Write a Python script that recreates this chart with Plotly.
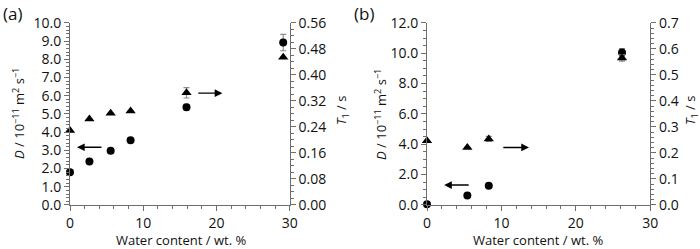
import plotly.graph_objects as go

# Panel (a)
a_water_D = [0, 2.65, 5.55, 8.27, 15.9, 29.1]
a_D = [1.8, 2.38, 2.97, 3.55, 5.37, 8.92]
a_D_err = [0, 0, 0, 0, 0.15, 0.45]
a_water_T = [0, 2.65, 5.55, 8.27, 15.9, 29.1]
a_T1 = [0.229, 0.264, 0.282, 0.289, 0.345, 0.454]
a_T1_err = [0, 0, 0, 0, 0.016, 0]

# Panel (b)
b_water_D = [0, 5.42, 8.3, 26.2]
b_D = [0.05, 0.62, 1.26, 10.05]
b_D_err = [0, 0, 0, 0.25]
b_water_T = [0, 5.42, 8.3, 26.2]
b_T1 = [0.247, 0.221, 0.254, 0.565]
b_T1_err = [0, 0, 0.01, 0.012]

FONT = "Open Sans"
TXT = "#111111"
AX = "#6e6e6e"
ERR = "#8c8c8c"

fig = go.Figure()

def circ(x, y, e, xa, ya):
    fig.add_trace(go.Scatter(x=x, y=y, mode="markers", xaxis=xa, yaxis=ya,
                             marker=dict(symbol="circle", size=8, color="black"),
                             error_y=dict(type="data", array=e, color=ERR, thickness=1.2, width=3),
                             showlegend=False, cliponaxis=False))

def tri(x, y, e, xa, ya):
    fig.add_trace(go.Scatter(x=x, y=y, mode="markers", xaxis=xa, yaxis=ya,
                             marker=dict(symbol="triangle-up", size=9, color="black"),
                             error_y=dict(type="data", array=e, color=ERR, thickness=1.2, width=3),
                             showlegend=False, cliponaxis=False))

circ(a_water_D, a_D, a_D_err, "x", "y")
tri(a_water_T, a_T1, a_T1_err, "x", "y2")
circ(b_water_D, b_D, b_D_err, "x2", "y3")
tri(b_water_T, b_T1, b_T1_err, "x2", "y4")

ydom = [0.177, 0.908]
tickf = dict(family=FONT, size=14, color=TXT)

def xax(dom, anchor):
    return dict(domain=dom, anchor=anchor, range=[0, 30], dtick=10, tick0=0,
                showline=True, linecolor=AX, linewidth=1, ticks="outside", ticklen=5,
                tickcolor=AX, tickfont=tickf, showgrid=False, zeroline=False, automargin=False,
                minor=dict(dtick=2, ticks="outside", ticklen=3, tickcolor=AX))

def yax(rng, dtick, mdtick, fmt, anchor, side="left", overlay=None):
    d = dict(domain=ydom, anchor=anchor, range=rng, dtick=dtick, tick0=0, tickformat=fmt,
             showline=True, linecolor=AX, linewidth=1, ticks="outside", ticklen=5,
             tickcolor=AX, tickfont=tickf, showgrid=False, zeroline=False, side=side,
             automargin=False,
             minor=dict(dtick=mdtick, ticks="outside", ticklen=3, tickcolor=AX))
    if overlay:
        d["overlaying"] = overlay
    return d

fig.update_layout(
    template="none",
    width=700, height=249, autosize=False,
    margin=dict(l=0, r=0, t=0, b=0, pad=0, autoexpand=False),
    paper_bgcolor="white", plot_bgcolor="white",
    showlegend=False,
    xaxis=xax([0.1, 0.414], "y"),
    yaxis=yax([0, 10], 1, 0.2, ".1f", "x"),
    yaxis2=yax([0, 0.56], 0.08, 0.02, ".2f", "x", side="right", overlay="y"),
    xaxis2=xax([0.61, 0.929], "y3"),
    yaxis3=yax([0, 12], 2, 0.5, ".1f", "x2"),
    yaxis4=yax([0, 0.7], 0.1, 0.02, ".1f", "x2", side="right", overlay="y3"),
)

def arrow(x, y, ax, ay, xr, yr):
    fig.add_annotation(x=x, y=y, ax=ax, ay=ay, xref=xr, yref=yr, axref=xr, ayref=yr,
                       text="", showarrow=True, arrowhead=2, arrowsize=1.1,
                       arrowwidth=1.4, arrowcolor="black")

arrow(0.95, 3.17, 4.5, 3.17, "x", "y")
arrow(20.8, 6.14, 17.3, 6.14, "x", "y")
arrow(2.3, 1.31, 5.8, 1.31, "x2", "y3")
arrow(13.7, 3.79, 10.05, 3.79, "x2", "y3")

labf = dict(family=FONT, size=13, color=TXT)
for xc in [181 / 700, 538 / 700]:
    fig.add_annotation(x=xc, y=(249 - 240) / 249, xref="paper", yref="paper",
                       text="Water content / wt. %", showarrow=False, font=labf,
                       xanchor="center", yanchor="middle")

ylab = "<i>D</i> / 10<sup>−11</sup> m<sup>2</sup> s<sup>−1</sup>"
for xc in [18 / 700, 380 / 700]:
    fig.add_annotation(x=xc, y=(249 - 114) / 249, xref="paper", yref="paper", text=ylab,
                       textangle=-90, showarrow=False, font=labf,
                       xanchor="center", yanchor="middle")
t1lab = "<i>T</i><sub>1</sub> / s"
for xc in [342 / 700, 691 / 700]:
    fig.add_annotation(x=xc, y=(249 - 111) / 249, xref="paper", yref="paper", text=t1lab,
                       textangle=-90, showarrow=False, font=labf,
                       xanchor="center", yanchor="middle")

for xc, t in [(1 / 700, "(a)"), (352 / 700, "(b)")]:
    fig.add_annotation(x=xc, y=1.0, xref="paper", yref="paper", text=t, showarrow=False,
                       font=dict(family=FONT, size=17, color=TXT), xanchor="left", yanchor="top")

fig.write_html("out.html", config={"displayModeBar": False, "staticPlot": True},
               post_script="document.body.style.margin='0';document.body.style.overflow='hidden';")
